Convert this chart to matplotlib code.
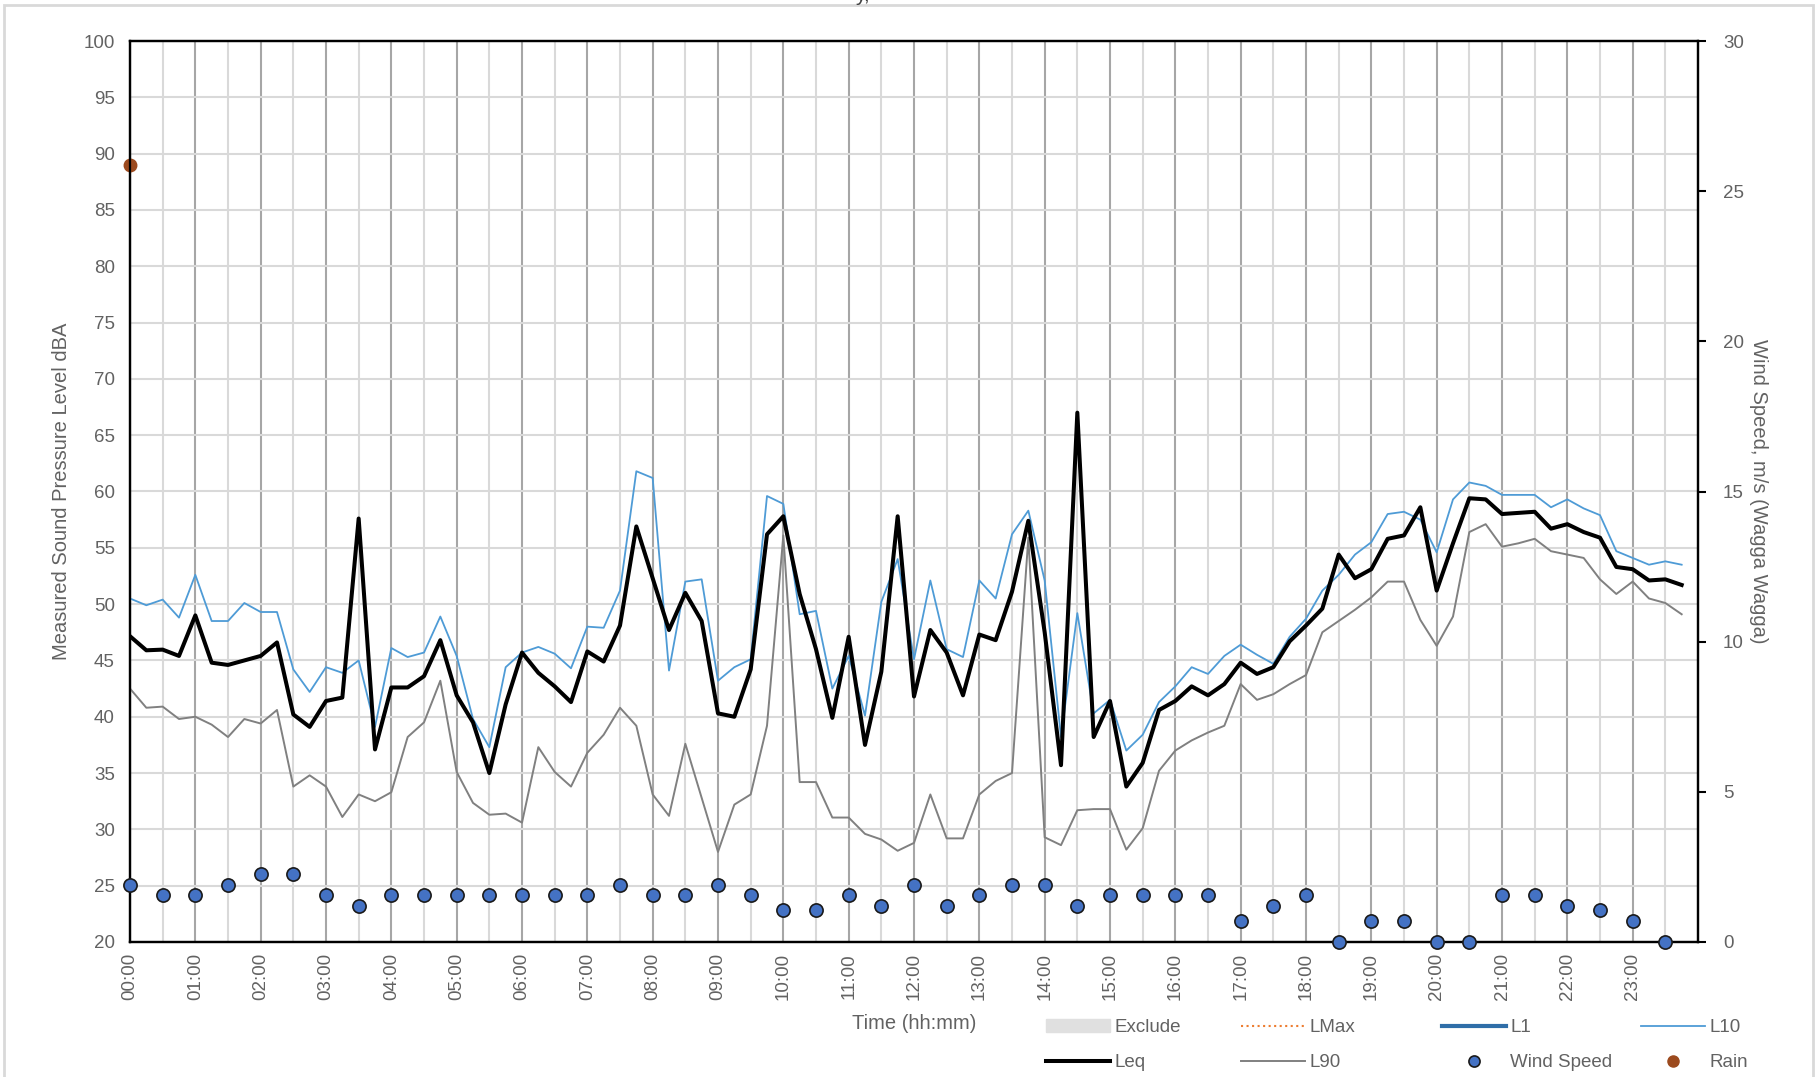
import numpy as np
import matplotlib
matplotlib.use("Agg")
import matplotlib.pyplot as plt
from matplotlib.lines import Line2D
from matplotlib.patches import Patch, Rectangle

# 15 minute levels, dBA
leq = [47.15, 45.9, 45.96, 45.4, 49.0, 44.8, 44.6, 45.0,
       45.4, 46.6, 40.2, 39.1, 41.4, 41.7, 57.6, 37.1,
       42.6, 42.6, 43.6, 46.8, 41.9, 39.5, 35.0, 41.1,
       45.7, 43.9, 42.7, 41.3, 45.8, 44.9, 48.1, 56.9,
       52.3, 47.7, 51.0, 48.5, 40.3, 40.0, 44.2, 56.2,
       57.8, 50.9, 46.0, 39.9, 47.1, 37.5, 44.0, 57.8,
       41.8, 47.7, 45.7, 41.9, 47.3, 46.8, 51.1, 57.4,
       47.5, 35.7, 67.0, 38.2, 41.4, 33.8, 35.9, 40.6,
       41.4, 42.7, 41.9, 42.9, 44.8, 43.8, 44.4, 46.7,
       48.1, 49.6, 54.4, 52.3, 53.1, 55.8, 56.1, 58.6,
       51.2, 55.4, 59.4, 59.3, 58.0, 58.1, 58.2, 56.7,
       57.1, 56.4, 55.9, 53.3, 53.1, 52.1, 52.2, 51.7]
l10 = [50.5, 49.9, 50.4, 48.8, 52.6, 48.5, 48.5, 50.1,
       49.3, 49.3, 44.2, 42.2, 44.4, 43.9, 45.0, 39.1,
       46.1, 45.3, 45.7, 48.9, 45.4, 39.8, 37.3, 44.4,
       45.7, 46.2, 45.6, 44.3, 48.0, 47.9, 51.2, 61.8,
       61.2, 44.1, 52.0, 52.2, 43.2, 44.4, 45.1, 59.6,
       58.9, 49.1, 49.4, 42.5, 45.4, 40.1, 50.2, 54.0,
       45.1, 52.1, 46.0, 45.3, 52.1, 50.5, 56.2, 58.3,
       52.1, 38.2, 49.2, 40.3, 41.5, 37.0, 38.4, 41.3,
       42.7, 44.4, 43.8, 45.4, 46.4, 45.5, 44.7, 47.1,
       48.7, 51.2, 52.6, 54.4, 55.5, 58.0, 58.2, 57.5,
       54.6, 59.3, 60.8, 60.5, 59.7, 59.7, 59.7, 58.6,
       59.3, 58.5, 57.9, 54.7, 54.1, 53.5, 53.8, 53.5]
l90 = [42.5, 40.8, 40.9, 39.8, 40.0, 39.3, 38.2, 39.8,
       39.4, 40.6, 33.8, 34.8, 33.8, 31.1, 33.1, 32.5,
       33.3, 38.2, 39.5, 43.2, 35.1, 32.35, 31.3, 31.4,
       30.6, 37.3, 35.1, 33.8, 36.8, 38.4, 40.8, 39.2,
       33.1, 31.2, 37.6, 32.8, 28.0, 32.2, 33.1, 39.2,
       56.1, 34.2, 34.2, 31.05, 31.05, 29.6, 29.1, 28.1,
       28.8, 33.1, 29.2, 29.2, 33.1, 34.3, 35.0, 55.9,
       29.3, 28.6, 31.7, 31.8, 31.8, 28.2, 30.1, 35.2,
       37.0, 37.9, 38.6, 39.2, 42.9, 41.5, 42.0, 42.9,
       43.7, 47.5, 48.5, 49.5, 50.6, 52.0, 52.0, 48.6,
       46.3, 48.9, 56.4, 57.1, 55.1, 55.4, 55.8, 54.7,
       54.4, 54.1, 52.2, 50.9, 52.0, 50.5, 50.1, 49.1]

# half hourly wind, m/s
wind = [1.9, 1.55, 1.55, 1.9, 2.25, 2.25, 1.55, 1.2,
        1.55, 1.55, 1.55, 1.55, 1.55, 1.55, 1.55, 1.9,
        1.55, 1.55, 1.9, 1.55, 1.05, 1.05, 1.55, 1.2,
        1.9, 1.2, 1.55, 1.9, 1.9, 1.2, 1.55, 1.55,
        1.55, 1.55, 0.7, 1.2, 1.55, 0.0, 0.7, 0.7,
        0.0, 0.0, 1.55, 1.55, 1.2, 1.05, 0.7, 0.0]

rain_time = [0.0]
rain_level = [89.0]

hour_labels = ["%02d:00" % h for h in range(24)]

t15 = np.arange(len(leq)) * 0.25
t30 = np.arange(len(wind)) * 0.5

plt.rcParams['font.family'] = ['Liberation Sans', 'DejaVu Sans']
txt = '#626262'

fig = plt.figure(figsize=(18.16, 10.77), dpi=100)
ax = fig.add_axes([130 / 1816, 135 / 1077, 1568 / 1816, 901 / 1077])

# grid
ax.set_xlim(0, 24)
ax.set_ylim(20, 100)
ax.set_xticks(np.arange(24))
ax.set_xticklabels(hour_labels, rotation=90, fontsize=13.5, color=txt)
ax.set_xticks(np.arange(0.5, 24, 1), minor=True)
ax.set_yticks(np.arange(20, 101, 5))
ax.tick_params(axis='y', labelsize=13.5, labelcolor=txt, length=0, pad=11)
ax.tick_params(axis='x', which='both', length=0, pad=8)
ax.grid(True, axis='x', which='major', color='#a6a6a6', lw=1.5)
ax.grid(True, axis='x', which='minor', color='#d9d9d9', lw=1.5)
ax.grid(True, axis='y', which='major', color='#d9d9d9', lw=1.5)
ax.set_axisbelow(True)
for s in ax.spines.values():
    s.set_color('black')
    s.set_linewidth(1.6)

ax.plot(t15, l90, color='#808080', lw=1.4, zorder=3)
ax.plot(t15, l10, color='#4e9bd6', lw=1.3, zorder=4)
ax.plot(t15, leq, color='black', lw=2.9, zorder=5)
ax.plot(rain_time, rain_level, 'o', color='#9c4a1e', ms=9, zorder=6, clip_on=False)

ax.set_ylabel('Measured Sound Pressure Level dBA', fontsize=14.5, color=txt, labelpad=9)
ax.set_xlabel('Time (hh:mm)', fontsize=14.5, color=txt, labelpad=10)

ax2 = ax.twinx()
ax2.set_ylim(0, 30)
ax2.set_yticks(np.arange(0, 31, 5))
ax2.tick_params(axis='y', labelsize=13.5, labelcolor=txt, length=6, width=1.5, direction='out', pad=12)
ax2.plot(t30, wind, 'o', mfc='#4472c4', mec='#1a1a1a', mew=1.2, ms=9.5, clip_on=False, zorder=6)
ax2.set_ylabel('Wind Speed, m/s (Wagga Wagga)', fontsize=14.5, color=txt, rotation=270, labelpad=17)
for s in ax2.spines.values():
    s.set_linewidth(1.6)

# legend, two rows by four columns
h_excl = Patch(color='#e0e0e0', label='Exclude')
h_leq = Line2D([], [], color='black', lw=2.9, label='Leq')
h_lmax = Line2D([], [], color='#ed7d31', lw=1.5, ls=':', label='LMax')
h_l90 = Line2D([], [], color='#808080', lw=1.4, label='L90')
h_l1 = Line2D([], [], color='#2f6ea8', lw=3, label='L1')
h_wind = Line2D([], [], ls='none', marker='o', mfc='#4472c4', mec='#1a1a1a', mew=1.2, ms=8, label='Wind Speed')
h_l10 = Line2D([], [], color='#4e9bd6', lw=1.3, label='L10')
h_rain = Line2D([], [], ls='none', marker='o', color='#9c4a1e', ms=8, label='Rain')

cols = [[h_excl, h_leq], [h_lmax, h_l90], [h_l1, h_wind], [h_l10, h_rain]]
col_x = [1046, 1241, 1442, 1641]
for hs, cx in zip(cols, col_x):
    leg = fig.legend(handles=hs, loc='upper left', bbox_to_anchor=(cx / 1816, 1 - 1019 / 1077),
                     frameon=False, fontsize=13.5, handlelength=3.4, handletextpad=0.25,
                     labelspacing=0.95, borderpad=0, borderaxespad=0)
    for t in leg.get_texts():
        t.set_color(txt)

# chart border and cut off title
fig.add_artist(Rectangle((4 / 1816, -0.05), 1809 / 1816, 1.05 - 5 / 1077, transform=fig.transFigure,
                         fill=False, ec='#d9d9d9', lw=2))
fig.text(862 / 1816, 1 - 1 / 1077, 'y,', fontsize=15, color='#404040', ha='center', va='baseline')

fig.savefig('out.png', dpi=100)
